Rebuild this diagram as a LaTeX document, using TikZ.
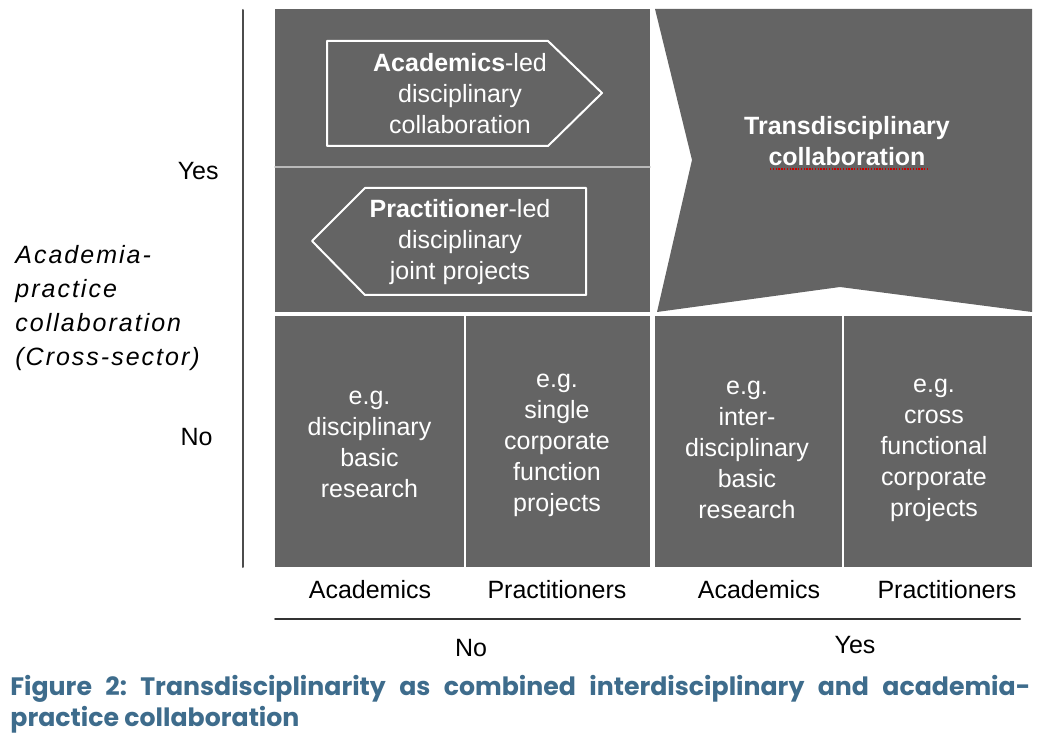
\documentclass[tikz,border=0pt]{standalone}
\usepackage{fontspec}
\setmainfont{Liberation Sans}
\newfontfamily\capfont{Poppins}
\definecolor{panelgray}{RGB}{100,100,100}
\definecolor{capblue}{RGB}{62,108,140}

\begin{document}
\begin{tikzpicture}[line cap=round,line join=round,x=0.5pt,y=-0.5pt,
        lbl/.style={font=\fontsize{12.5}{15.5}\selectfont,align=center,inner sep=0pt},
        celltxt/.style={lbl,text=white},
        sepline/.style={white,line width=1pt}]
        \useasboundingbox (0,0) rectangle (1043,748);

        \fill [panelgray] (275,9) rectangle (650,312);
        \fill [panelgray] (655,9) -- (1032,9) -- (1032,312) -- (840,287) -- (657,312) -- (692,160) -- cycle;
        \fill [panelgray] (275,316) rectangle (650,567);
        \fill [panelgray] (655,316) rectangle (1032,567);
        \draw [sepline] (465,316) -- (465,567);
        \draw [sepline] (843,316) -- (843,567);
        \draw [gray!55, line width=0.7pt] (275,167) -- (650,167);

        \draw [white, line width=1pt] (327,41) -- (548,41) -- (602,93) -- (548,146) -- (327,146) -- cycle;
        \draw [white, line width=1pt] (586,188) -- (365,188) -- (312,241) -- (365,295) -- (586,295) -- cycle;

        \node [celltxt] (acadled) at (460,93.5) {\textbf{Academics}-led\\disciplinary\\collaboration};
        \node [celltxt] (pracled) at (460,242) {\textbf{Practitioner}-led\\disciplinary\\joint projects};
        \node [celltxt, font=\bfseries\fontsize{12.5}{15.5}\selectfont] (trans) at (847,141) {Transdisciplinary\\collaboration};
        \draw [red!80!black, line cap=butt, line width=0.7pt, dash pattern=on 0.7pt off 0.7pt] (770,169) -- (928,169);

        \node [celltxt] (discbasic) at (369.5,444) {e.g.\\disciplinary\\basic\\research};
        \node [celltxt] (singlecorp) at (557,445) {e.g.\\single\\corporate\\function\\projects};
        \node [celltxt] (interbasic) at (747,450) {e.g.\\inter-\\disciplinary\\basic\\research};
        \node [celltxt] (crossfunc) at (934,450) {e.g.\\cross\\functional\\corporate\\projects};

        \draw [gray!60!black, line width=1pt] (242.5,10) -- (242.5,567);
        \node [lbl, anchor=east] (yesleft) at (219,171) {Yes};
        \node [lbl, anchor=east] (noleft) at (213,437) {No};
        \node [lbl, anchor=west, align=left, font=\itshape\addfontfeature{LetterSpace=8}\fontsize{12.5}{17}\selectfont] (acprac) at (15,308.5) {Academia-\\practice\\collaboration\\(Cross-sector)};

        \node [lbl] (acadA) at (370,590) {Academics};
        \node [lbl] (pracA) at (557,590) {Practitioners};
        \node [lbl] (acadB) at (759,590) {Academics};
        \node [lbl] (pracB) at (947,590) {Practitioners};
        \draw [black!80, line width=1pt] (275,619) -- (1020,619);
        \node [lbl] (nobottom) at (471,648) {No};
        \node [lbl] (yesbottom) at (855,645) {Yes};

        \node [anchor=west, inner sep=0pt, align=left, text=capblue, font=\capfont\bfseries\frenchspacing\fontsize{12.6}{15.5}\selectfont] (caption) at (10,704.5)
                {\makebox[510pt][s]{Figure 2: Transdisciplinarity as combined interdisciplinary and academia-}\\practice collaboration};
\end{tikzpicture}
\end{document}
